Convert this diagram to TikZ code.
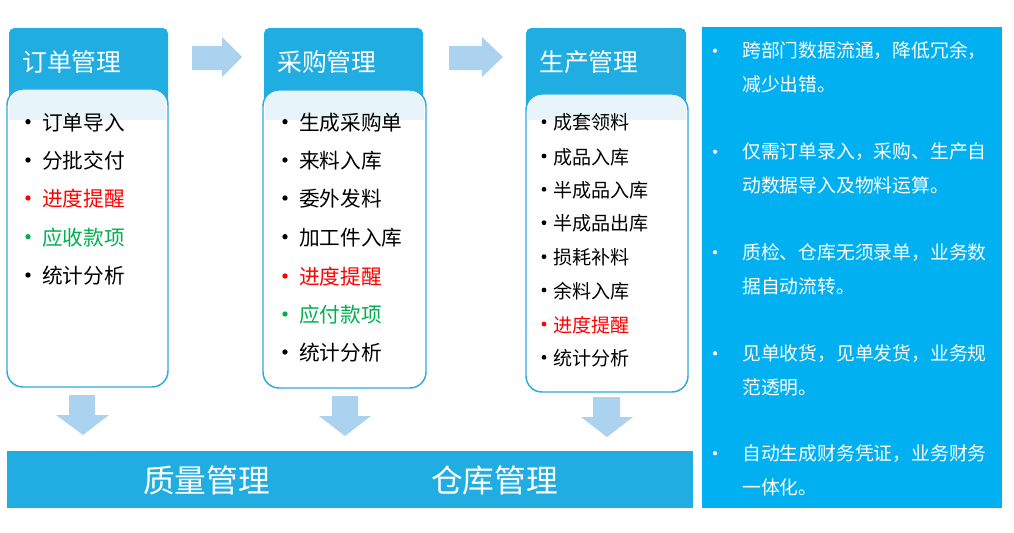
\documentclass[tikz,border=0pt]{standalone}
\usepackage{fontspec}
\setmainfont{Noto Sans CJK SC}
\definecolor{hdr}{HTML}{1FADE2}
\definecolor{panel}{HTML}{00B0F0}
\definecolor{arr}{HTML}{ABD2EE}
\definecolor{band}{HTML}{E7F5FB}
\definecolor{bord}{HTML}{2DAAE1}
\definecolor{rd}{HTML}{FF0000}
\definecolor{gr}{HTML}{00B050}
\tikzset{
  hdrtxt/.style={anchor=west,inner sep=0pt,text=white,font=\fontsize{18.6}{20}\selectfont},
  itemtxt/.style={anchor=west,inner sep=0pt,font=\fontsize{15.5}{17}\selectfont},
  itemsm/.style={anchor=west,inner sep=0pt,font=\fontsize{14.3}{16}\selectfont},
  paneltxt/.style={anchor=west,inner sep=0pt,text=white,font=\fontsize{14.1}{16}\selectfont},
  bottxt/.style={inner sep=0pt,text=white,font=\fontsize{23.8}{26}\selectfont},
  blockarrow/.style={fill=arr},
  bodybox/.style={draw=bord,line width=1.1pt,rounded corners=12pt},
}
\begin{document}
\begin{tikzpicture}[x=0.75pt,y=-0.75pt]
\useasboundingbox (0,0) rectangle (1014,532);
% ---------- box 1 ----------
\fill[hdr,rounded corners=4pt] (9,28) rectangle (168,110);
\fill[white,rounded corners=12pt] (7,89) rectangle (168,387);
\begin{scope}\clip (9,90) rectangle (166,119);
\fill[band,rounded corners=11pt] (9,90) rectangle (166,140);\end{scope}
\draw[bodybox] (7,89) rectangle (168,387);
\node[hdrtxt] (h1) at (22,62) {订单管理};
\foreach \y/\t/\c [count=\i] in {121.7/订单导入/black,160/分批交付/black,198/进度提醒/rd,236.7/应收款项/gr,275/统计分析/black}{
  \fill[\c] (28,\y) circle (2pt);
  \node[itemtxt,text=\c] (a\i) at (42,\y+1) {\t};
}
% ---------- box 2 ----------
\fill[hdr,rounded corners=4pt] (264,28) rectangle (423,110);
\fill[white,rounded corners=12pt] (263,90) rectangle (426,388);
\begin{scope}\clip (265,91) rectangle (424,119);
\fill[band,rounded corners=11pt] (265,91) rectangle (424,140);\end{scope}
\draw[bodybox] (263,90) rectangle (426,388);
\node[hdrtxt] (h2) at (277,62) {采购管理};
\foreach \y/\t/\c [count=\i] in {121.7/生成采购单/black,160/来料入库/black,198/委外发料/black,236.7/加工件入库/black,276/进度提醒/rd,314/应付款项/gr,352/统计分析/black}{
  \fill[\c] (285,\y) circle (2pt);
  \node[itemtxt,text=\c] (b\i) at (299,\y+1) {\t};
}
% ---------- box 3 ----------
\fill[hdr,rounded corners=4pt] (526,28) rectangle (686,110);
\fill[white,rounded corners=12pt] (526,94) rectangle (688,392);
\begin{scope}\clip (528,95) rectangle (686,119);
\fill[band,rounded corners=11pt] (528,95) rectangle (686,140);\end{scope}
\draw[bodybox] (526,94) rectangle (688,392);
\node[hdrtxt] (h3) at (539,62) {生产管理};
\foreach \y/\t/\c [count=\i] in {121.7/成套领料/black,156/成品入库/black,189.3/半成品入库/black,222.7/半成品出库/black,256.7/损耗补料/black,290/余料入库/black,324/进度提醒/rd,357.3/统计分析/black}{
  \fill[\c] (544,\y) circle (1.8pt);
  \node[itemsm,text=\c] (c\i) at (553,\y+1) {\t};
}
% ---------- right arrows ----------
\fill[blockarrow] (192,46) -- (222,46) -- (222,37) -- (242,57) -- (222,77) -- (222,70) -- (192,70) -- cycle;
\fill[blockarrow] (449,46) -- (482,46) -- (482,37) -- (503,57) -- (482,77) -- (482,70) -- (449,70) -- cycle;
% ---------- down arrows ----------
\fill[blockarrow] (69,395) -- (95,395) -- (95,415) -- (109,415) -- (83,435) -- (56,415) -- (69,415) -- cycle;
\fill[blockarrow] (332,396) -- (358,396) -- (358,416) -- (371,416) -- (345,436) -- (319,416) -- (332,416) -- cycle;
\fill[blockarrow] (593,397) -- (620,397) -- (620,417) -- (633,417) -- (607,437) -- (581,417) -- (593,417) -- cycle;
% ---------- bottom bar ----------
\fill[hdr] (7,451) rectangle (693,508);
\node[bottxt] (q) at (206.5,480) {质量管理};
\node[bottxt] (w) at (494.5,480) {仓库管理};
% ---------- right panel ----------
\fill[panel] (702,27) rectangle (1002,508);
\foreach \y/\la/\lb [count=\i] in {50.7/跨部门数据流通，降低冗余，/减少出错。,151.7/仅需订单录入，采购、生产自/动数据导入及物料运算。,252.3/质检、仓库无须录单，业务数/据自动流转。,353.3/见单收货，见单发货，业务规/范透明。,453.3/自动生成财务凭证，业务财务/一体化。}{
  \fill[white] (715,\y) circle (1.6pt);
  \node[paneltxt] (p\i a) at (742,\y) {\la};
  \node[paneltxt] (p\i b) at (742,\y+33.7) {\lb};
}
\end{tikzpicture}
\end{document}
